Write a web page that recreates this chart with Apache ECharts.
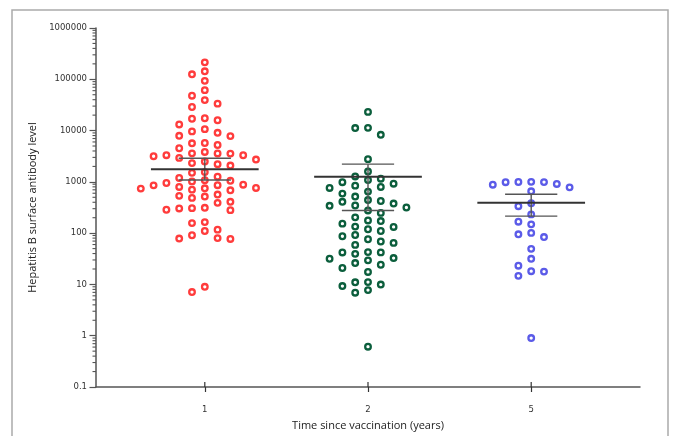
<!DOCTYPE html>
<html><head><meta charset="utf-8">
<script src="https://cdn.jsdelivr.net/npm/echarts@6/dist/echarts.min.js"></script>
<style>html,body{margin:0;padding:0;background:#fff}#c{width:676px;height:436px}</style>
</head><body><div id="c"></div>
<script>
// ---- data ----
const groups = ['1', '2', '5'];
const year1 = [214000,143000,125000,93300,61400,47900,39300,33500,28800,17400,17000,15900,13150,10670,9630,9050,7910,7800,5720,5650,5230,4520,3830,3580,3560,3600,3310,3160,2930,3300,2720,2490,2320,2210,2080,1550,1500,1260,1190,1080,1050,1020,950,881,855,860,796,761,748,738,705,684,565,533,517,487,408,390,312,307,303,286,281,164,157,117,110,91,80,78.5,77,9.0,7.1];
const year2 = [23100,11300,11200,8280,2770,1590,1276,1151,1086,985,921,843,796,761,645,590,517,442,423,408,378,346,341,316,277,248,203,177,172,153,134,132,119,110,92,87,76,68.7,64.6,59,42.7,42.1,42,39.5,32.7,31.7,29.5,26.1,24.2,20.9,17.5,11.1,11.0,9.95,9.3,7.75,6.9,0.61];
const year5 = [993,1000,990,985,910,881,781,654,383,335,232,167,148.5,101,95,84,49.4,31.6,23.2,18.1,17.8,14.7,0.9];
const means = [1770, 1260, 390];
const barLow = [1090, 277, 215];
const barHigh = [2890, 2215, 572];
const yTickValues = [0.1, 1, 10, 100, 1000, 10000, 100000, 1000000];
const yTickLabels = ['0.1', '1', '10', '100', '1000', '10000', '100000', '1000000'];

const colors = ['#ff3c3c', '#0b5e3c', '#5b5be8'];
const minorTicks = [];
for (let i = 0; i < yTickValues.length - 1; i++) {
  for (let m = 2; m <= 9; m++) minorTicks.push(yTickValues[i] * m);
}
const X_MIN = 1/3, X_MAX = 11/3;

const chart = echarts.init(document.getElementById('c'), null, {renderer: 'canvas'});
const axisColor = '#555';
const labelFont = {fontFamily: 'DejaVu Sans', fontSize: 8.5, color: '#333'};
chart.setOption({
  animation: false,
  backgroundColor: '#fff',
  graphic: [{type: 'rect', shape: {x: 12, y: 10, width: 656, height: 440}, style: {fill: 'none', stroke: '#aaa', lineWidth: 1.5}, silent: true}],
  grid: {left: 96, right: 36, top: 28, bottom: 46},
  xAxis: {
    type: 'value', min: X_MIN, max: X_MAX, position: 'bottom',
    name: 'Time since vaccination (years)', nameLocation: 'middle', nameGap: 33,
    nameTextStyle: {fontFamily: 'Open Sans', fontSize: 11, color: '#222'},
    axisLine: {show: true, lineStyle: {color: axisColor, width: 1.5}},
    axisTick: {show: true, customValues: [1, 2, 3], length: 5, lineStyle: {color: '#333', width: 1.2}},
    axisLabel: {customValues: [1, 2, 3], margin: 18, ...labelFont, formatter: v => groups[Math.round(v) - 1]},
    splitLine: {show: false}
  },
  yAxis: {
    type: 'log', logBase: 10, min: 0.1, max: 1000000, position: 'left',
    name: 'Hepatitis B surface antibody level', nameLocation: 'middle', nameGap: 51,
    nameTextStyle: {fontFamily: 'Open Sans', fontSize: 11, color: '#222'},
    axisLine: {show: true, lineStyle: {color: axisColor, width: 1.5}},
    axisTick: {show: true, customValues: yTickValues, length: 6.5, lineStyle: {color: axisColor, width: 1.2}},
    axisLabel: {customValues: yTickValues, margin: 9, ...labelFont,
      formatter: v => { const lg = Math.round(Math.log10(v)); return yTickLabels[yTickValues.findIndex(t => Math.round(Math.log10(t)) === lg)]; }},
    splitLine: {show: false}
  }
});

// Beeswarm layout computed from values through the axes
const unitPx = chart.convertToPixel({xAxisIndex: 0}, 2) - chart.convertToPixel({xAxisIndex: 0}, 1);
const COL_PX = 12.8, GAP_PX = 8;
function swarm(vals, center) {
  const sorted = vals.slice().sort((a, b) => b - a);
  const placed = [];
  const order = [0, -1, 1, -2, 2, -3, 3, -4, 4, -5, 5, -6, 6, -7, 7];
  return sorted.map(v => {
    const py = chart.convertToPixel({yAxisIndex: 0}, v);
    let col = 0;
    for (const c of order) {
      if (!placed.some(p => p.c === c && Math.abs(p.y - py) < GAP_PX)) { col = c; break; }
    }
    placed.push({c: col, y: py});
    return [center + col * COL_PX / unitPx, v];
  });
}
const allGroups = [year1, year2, year5];
const scatterSeries = allGroups.map((vals, i) => ({
  type: 'scatter',
  data: swarm(vals, i + 1),
  symbol: 'circle', symbolSize: 5.6,
  itemStyle: {color: '#fff', borderColor: colors[i], borderWidth: 2.3, opacity: 1},
  z: 2
}));
const barData = means.map((m, i) => [i + 1, m, barLow[i], barHigh[i]]);
const line = (x1, y1, x2, y2, stroke, w) => ({type: 'line', shape: {x1, y1, x2, y2}, style: {stroke, lineWidth: w}});
chart.setOption({
  series: scatterSeries.concat([{
    type: 'custom', z: 5, clip: false,
    data: barData,
    renderItem: (params, api) => {
      const x = api.value(0);
      const m = api.coord([x, api.value(1)]);
      const lo = api.coord([x, api.value(2)]);
      const hi = api.coord([x, api.value(3)]);
      const u = api.coord([x + 1, api.value(1)])[0] - m[0];
      const mw = u * 0.33, cw = u * 0.16;
      return {type: 'group', children: [
        line(lo[0], lo[1], hi[0], hi[1], '#555', 1.4),
        line(lo[0] - cw, lo[1], lo[0] + cw, lo[1], '#555', 1.4),
        line(hi[0] - cw, hi[1], hi[0] + cw, hi[1], '#555', 1.4),
        line(m[0] - mw, m[1], m[0] + mw, m[1], '#333', 2)
      ]};
    }
  }, {
    // minor log ticks on the y axis
    type: 'custom', z: 6, clip: false, silent: true,
    data: minorTicks.map(v => [X_MIN, v]),
    renderItem: (params, api) => {
      const p = api.coord([api.value(0), api.value(1)]);
      return line(p[0] - 3.5, p[1], p[0], p[1], axisColor, 1.1);
    }
  }, {
    // upper half of the x-axis ticks (they cross the axis line)
    type: 'custom', z: 6, clip: false, silent: true,
    data: [1, 2, 3].map(v => [v, 0.1]),
    renderItem: (params, api) => {
      const p = api.coord([api.value(0), api.value(1)]);
      return line(p[0], p[1], p[0], p[1] - 5, '#333', 1.2);
    }
  }])
});
</script></body></html>
